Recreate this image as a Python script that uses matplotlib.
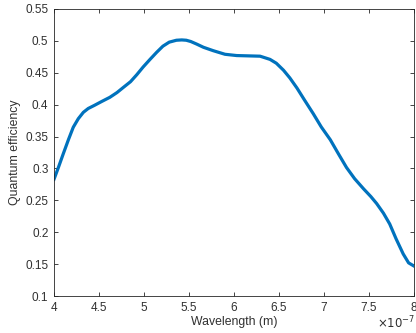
import matplotlib
matplotlib.use('Agg')
from matplotlib import pyplot as plt
import numpy as np

# wavelength in nm, quantum efficiency
wavelength_nm = [400, 405, 410.3, 416, 421.4, 427, 432.6, 438, 445, 453, 462,
                 470, 477, 485, 492, 499, 506.7, 514, 521, 528, 536, 542, 547,
                 552, 558.5, 566, 577, 590, 603, 616, 629, 640, 647, 655, 662,
                 670, 678, 688, 697, 707, 716, 725, 734, 744, 752, 758.5, 766,
                 773, 780, 788, 794, 800]
qe = [0.283, 0.302, 0.323, 0.345, 0.3646, 0.378, 0.388, 0.394, 0.399, 0.405,
      0.4115, 0.419, 0.427, 0.436, 0.447, 0.459, 0.471, 0.482, 0.4917, 0.498,
      0.501, 0.5015, 0.501, 0.499, 0.495, 0.49, 0.4846, 0.479, 0.477, 0.4765,
      0.476, 0.471, 0.465, 0.454, 0.442, 0.426, 0.408, 0.386, 0.365, 0.345,
      0.323, 0.3015, 0.284, 0.268, 0.256, 0.245, 0.23, 0.213, 0.19, 0.166,
      0.152, 0.147]

xticks = [4, 4.5, 5, 5.5, 6, 6.5, 7, 7.5, 8]
xticklabels = ['4', '4.5', '5', '5.5', '6', '6.5', '7', '7.5', '8']
yticks = [0.1, 0.15, 0.2, 0.25, 0.3, 0.35, 0.4, 0.45, 0.5, 0.55]
yticklabels = ['0.1', '0.15', '0.2', '0.25', '0.3', '0.35', '0.4', '0.45',
               '0.5', '0.55']

# x axis shown in units of 1e-7 m
wavelength = np.array(wavelength_nm) / 100.0

plt.rcParams['font.family'] = ['Liberation Sans', 'DejaVu Sans']
txt = '#303030'

fig = plt.figure(figsize=(4.16, 3.33), dpi=100)
ax = fig.add_axes([0.1298, 0.111, 0.8654, 0.862])

ax.plot(wavelength, qe, color='#0072BD', linewidth=2.3)

ax.set_xlim(4, 8)
ax.set_ylim(0.1, 0.55)
ax.set_xticks(xticks)
ax.set_xticklabels(xticklabels)
ax.set_yticks(yticks)
ax.set_yticklabels(yticklabels)

ax.tick_params(direction='in', top=True, right=True, length=3, width=0.6,
               colors='#262626', labelcolor=txt, labelsize=8.5, pad=4)
for s in ax.spines.values():
    s.set_color('#262626')
    s.set_linewidth(0.6)

ax.set_xlabel('Wavelength (m)', fontsize=8.8, color=txt, labelpad=2)
ax.set_ylabel('Quantum efficiency', fontsize=8.8, color=txt, labelpad=3)

# exponent of the x axis, as MATLAB shows it
fig.text(0.998, 0.004, r'$\times 10^{-7}$', ha='right', va='bottom',
         fontsize=8.5, color=txt)

fig.savefig('out.png', dpi=100)
